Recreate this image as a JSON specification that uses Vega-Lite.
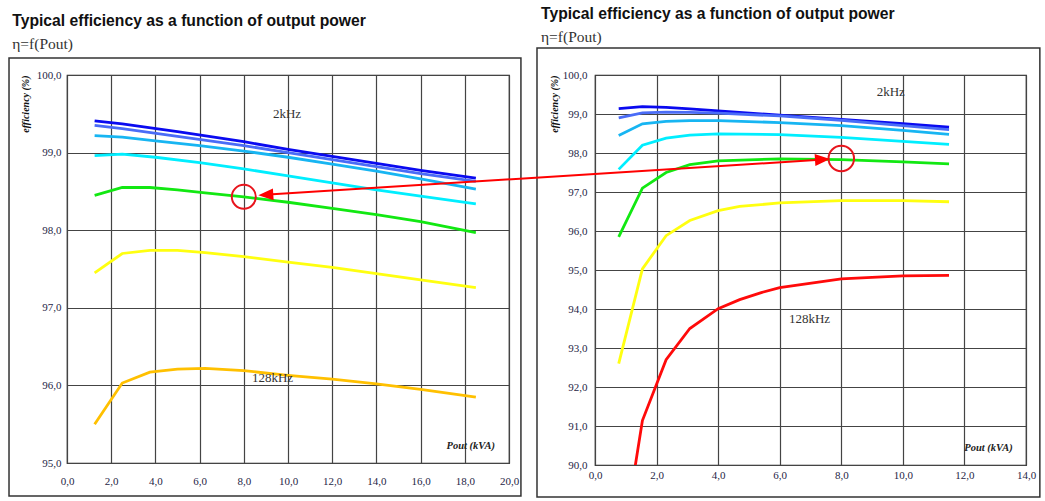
{
  "$schema": "https://vega.github.io/schema/vega-lite/v6.json",
  "autosize": {"type": "none"},
  "padding": {"left": 67, "top": 75, "right": 978, "bottom": 426},
  "background": "white",
  "bounds": "flush",
  "spacing": 86,
  "resolve": {"scale": {"color": "independent", "x": "independent", "y": "independent"}},
  "config": {
    "view": {"stroke": "#222", "strokeWidth": 1.2},
    "axis": {
      "labelFont": "Liberation Serif", "labelFontSize": 11, "labelColor": "#262646",
      "labelFlush": false, "labelOverlap": false, "tickCount": 30,
      "gridColor": "#444", "gridWidth": 1.2, "gridOpacity": 1,
      "domain": false, "ticks": false, "tickSize": 0,
      "titleFont": "Liberation Serif", "titleFontStyle": "italic", "titleFontWeight": "bold",
      "titleFontSize": 10, "titleColor": "#111"
    },
    "title": {
      "font": "Liberation Sans", "fontSize": 15.7, "fontWeight": "bold", "color": "#111",
      "subtitleFont": "Liberation Serif", "subtitleFontSize": 15.5, "subtitleColor": "#333",
      "subtitlePadding": 7
    }
  },
  "datasets": {
    "left": [
      {"f": "2kHz", "p": 1.25, "eff": 99.41}, {"f": "2kHz", "p": 2.5, "eff": 99.37}, {"f": "2kHz", "p": 5, "eff": 99.27}, {"f": "2kHz", "p": 8, "eff": 99.14}, {"f": "2kHz", "p": 10, "eff": 99.04}, {"f": "2kHz", "p": 12, "eff": 98.95}, {"f": "2kHz", "p": 14, "eff": 98.86}, {"f": "2kHz", "p": 16, "eff": 98.77}, {"f": "2kHz", "p": 18.5, "eff": 98.67},
      {"f": "4kHz", "p": 1.25, "eff": 99.35}, {"f": "4kHz", "p": 2.5, "eff": 99.31}, {"f": "4kHz", "p": 5, "eff": 99.21}, {"f": "4kHz", "p": 8, "eff": 99.09}, {"f": "4kHz", "p": 10, "eff": 99.0}, {"f": "4kHz", "p": 12, "eff": 98.91}, {"f": "4kHz", "p": 14, "eff": 98.82}, {"f": "4kHz", "p": 16, "eff": 98.73}, {"f": "4kHz", "p": 18.5, "eff": 98.63},
      {"f": "8kHz", "p": 1.25, "eff": 99.22}, {"f": "8kHz", "p": 2.5, "eff": 99.2}, {"f": "8kHz", "p": 4, "eff": 99.15}, {"f": "8kHz", "p": 6, "eff": 99.09}, {"f": "8kHz", "p": 8, "eff": 99.02}, {"f": "8kHz", "p": 10, "eff": 98.94}, {"f": "8kHz", "p": 12, "eff": 98.85}, {"f": "8kHz", "p": 14, "eff": 98.76}, {"f": "8kHz", "p": 16, "eff": 98.66}, {"f": "8kHz", "p": 18.5, "eff": 98.53},
      {"f": "16kHz", "p": 1.25, "eff": 98.96}, {"f": "16kHz", "p": 2.5, "eff": 98.98}, {"f": "16kHz", "p": 4, "eff": 98.94}, {"f": "16kHz", "p": 6, "eff": 98.87}, {"f": "16kHz", "p": 8, "eff": 98.79}, {"f": "16kHz", "p": 10, "eff": 98.7}, {"f": "16kHz", "p": 12, "eff": 98.61}, {"f": "16kHz", "p": 14, "eff": 98.52}, {"f": "16kHz", "p": 16, "eff": 98.44}, {"f": "16kHz", "p": 18.5, "eff": 98.34},
      {"f": "32kHz", "p": 1.25, "eff": 98.45}, {"f": "32kHz", "p": 2.5, "eff": 98.55}, {"f": "32kHz", "p": 3.75, "eff": 98.55}, {"f": "32kHz", "p": 5, "eff": 98.52}, {"f": "32kHz", "p": 6.25, "eff": 98.48}, {"f": "32kHz", "p": 8, "eff": 98.43}, {"f": "32kHz", "p": 10, "eff": 98.36}, {"f": "32kHz", "p": 12, "eff": 98.28}, {"f": "32kHz", "p": 14, "eff": 98.2}, {"f": "32kHz", "p": 16, "eff": 98.11}, {"f": "32kHz", "p": 18.5, "eff": 97.97},
      {"f": "64kHz", "p": 1.25, "eff": 97.45}, {"f": "64kHz", "p": 2.5, "eff": 97.7}, {"f": "64kHz", "p": 3.75, "eff": 97.74}, {"f": "64kHz", "p": 5, "eff": 97.74}, {"f": "64kHz", "p": 6.25, "eff": 97.71}, {"f": "64kHz", "p": 8, "eff": 97.66}, {"f": "64kHz", "p": 10, "eff": 97.59}, {"f": "64kHz", "p": 12, "eff": 97.52}, {"f": "64kHz", "p": 14, "eff": 97.44}, {"f": "64kHz", "p": 16, "eff": 97.36}, {"f": "64kHz", "p": 18.5, "eff": 97.26},
      {"f": "128kHz", "p": 1.25, "eff": 95.5}, {"f": "128kHz", "p": 2.5, "eff": 96.03}, {"f": "128kHz", "p": 3.75, "eff": 96.17}, {"f": "128kHz", "p": 5, "eff": 96.21}, {"f": "128kHz", "p": 6.25, "eff": 96.22}, {"f": "128kHz", "p": 8, "eff": 96.19}, {"f": "128kHz", "p": 10, "eff": 96.13}, {"f": "128kHz", "p": 12, "eff": 96.08}, {"f": "128kHz", "p": 14, "eff": 96.02}, {"f": "128kHz", "p": 16, "eff": 95.95}, {"f": "128kHz", "p": 18.5, "eff": 95.85}
    ],
    "right": [
      {"f": "2kHz", "p": 0.77, "eff": 99.14}, {"f": "2kHz", "p": 1.54, "eff": 99.19}, {"f": "2kHz", "p": 2.31, "eff": 99.17}, {"f": "2kHz", "p": 3.08, "eff": 99.13}, {"f": "2kHz", "p": 4, "eff": 99.08}, {"f": "2kHz", "p": 6, "eff": 98.97}, {"f": "2kHz", "p": 8, "eff": 98.86}, {"f": "2kHz", "p": 10, "eff": 98.75}, {"f": "2kHz", "p": 11.5, "eff": 98.66},
      {"f": "4kHz", "p": 0.77, "eff": 98.9}, {"f": "4kHz", "p": 1.54, "eff": 99.03}, {"f": "4kHz", "p": 2.31, "eff": 99.05}, {"f": "4kHz", "p": 3.08, "eff": 99.04}, {"f": "4kHz", "p": 4, "eff": 99.02}, {"f": "4kHz", "p": 6, "eff": 98.95}, {"f": "4kHz", "p": 8, "eff": 98.84}, {"f": "4kHz", "p": 10, "eff": 98.7}, {"f": "4kHz", "p": 11.5, "eff": 98.6},
      {"f": "8kHz", "p": 0.77, "eff": 98.45}, {"f": "8kHz", "p": 1.54, "eff": 98.75}, {"f": "8kHz", "p": 2.31, "eff": 98.81}, {"f": "8kHz", "p": 3.08, "eff": 98.83}, {"f": "8kHz", "p": 4, "eff": 98.83}, {"f": "8kHz", "p": 6, "eff": 98.78}, {"f": "8kHz", "p": 8, "eff": 98.7}, {"f": "8kHz", "p": 10, "eff": 98.58}, {"f": "8kHz", "p": 11.5, "eff": 98.48},
      {"f": "16kHz", "p": 0.77, "eff": 97.58}, {"f": "16kHz", "p": 1.54, "eff": 98.2}, {"f": "16kHz", "p": 2.31, "eff": 98.38}, {"f": "16kHz", "p": 3.08, "eff": 98.46}, {"f": "16kHz", "p": 4, "eff": 98.49}, {"f": "16kHz", "p": 6, "eff": 98.47}, {"f": "16kHz", "p": 8, "eff": 98.4}, {"f": "16kHz", "p": 10, "eff": 98.3}, {"f": "16kHz", "p": 11.5, "eff": 98.22},
      {"f": "32kHz", "p": 0.77, "eff": 95.85}, {"f": "32kHz", "p": 1.54, "eff": 97.1}, {"f": "32kHz", "p": 2.31, "eff": 97.5}, {"f": "32kHz", "p": 3.08, "eff": 97.7}, {"f": "32kHz", "p": 4, "eff": 97.8}, {"f": "32kHz", "p": 6, "eff": 97.85}, {"f": "32kHz", "p": 8, "eff": 97.83}, {"f": "32kHz", "p": 10, "eff": 97.77}, {"f": "32kHz", "p": 11.5, "eff": 97.72},
      {"f": "64kHz", "p": 0.77, "eff": 92.6}, {"f": "64kHz", "p": 1.54, "eff": 95.03}, {"f": "64kHz", "p": 2.31, "eff": 95.88}, {"f": "64kHz", "p": 3.08, "eff": 96.27}, {"f": "64kHz", "p": 4, "eff": 96.52}, {"f": "64kHz", "p": 4.7, "eff": 96.63}, {"f": "64kHz", "p": 6, "eff": 96.72}, {"f": "64kHz", "p": 8, "eff": 96.78}, {"f": "64kHz", "p": 10, "eff": 96.78}, {"f": "64kHz", "p": 11.5, "eff": 96.75},
      {"f": "128kHz", "p": 0.77, "eff": 87.3}, {"f": "128kHz", "p": 1.54, "eff": 91.14}, {"f": "128kHz", "p": 2.31, "eff": 92.7}, {"f": "128kHz", "p": 3.08, "eff": 93.5}, {"f": "128kHz", "p": 4, "eff": 94.01}, {"f": "128kHz", "p": 4.7, "eff": 94.24}, {"f": "128kHz", "p": 5.4, "eff": 94.42}, {"f": "128kHz", "p": 6, "eff": 94.55}, {"f": "128kHz", "p": 8, "eff": 94.77}, {"f": "128kHz", "p": 10, "eff": 94.85}, {"f": "128kHz", "p": 11.5, "eff": 94.86}
    ]
  },
  "hconcat": [
    {
      "width": 442,
      "height": 388,
      "title": {"text": "Typical efficiency as a function of output power", "subtitle": "η=f(Pout)", "anchor": "start", "frame": "bounds", "dx": 4, "offset": 4},
      "layer": [
        {
          "data": {"values": [{}]},
          "mark": {"type": "rect", "fill": "transparent", "stroke": "#333", "strokeWidth": 1.5},
          "encoding": {
            "x": {"datum": -2.624, "type": "quantitative", "scale": {"domain": [0, 20], "nice": false, "zero": false}},
            "x2": {"datum": 20.54},
            "y": {"datum": 100.219, "type": "quantitative", "scale": {"domain": [95, 100], "nice": false, "zero": false}},
            "y2": {"datum": 94.575}
          }
        },
        {
          "data": {"name": "left"},
          "mark": {"type": "line", "strokeWidth": 2.8, "clip": true},
          "encoding": {
            "x": {"field": "p", "type": "quantitative", "scale": {"domain": [0, 20], "nice": false, "zero": false},
              "axis": {"values": [0, 2, 4, 6, 8, 10, 12, 14, 16, 18, 20], "tickCount": 30, "title": null, "grid": true, "labelPadding": 12, "labelExpr": "replace(format(datum.value, '.1f'), '.', ',')"}},
            "y": {"field": "eff", "type": "quantitative", "scale": {"domain": [95, 100], "nice": false, "zero": false},
              "axis": {"values": [95, 96, 97, 98, 99, 100], "tickCount": 30, "title": "efficiency (%)", "titleAnchor": "end", "titlePadding": 6, "grid": true, "labelPadding": 6, "labelExpr": "replace(format(datum.value, '.1f'), '.', ',')"}},
            "color": {"field": "f", "type": "nominal", "legend": null,
              "scale": {"domain": ["2kHz", "4kHz", "8kHz", "16kHz", "32kHz", "64kHz", "128kHz"], "range": ["#0a0af0", "#4a6cf7", "#17b5f2", "#00eeff", "#12e812", "#ffff10", "#ffc000"]}}
          }
        },
        {
          "data": {"values": [{}]},
          "mark": {"type": "text", "text": "2kHz", "align": "left", "baseline": "middle", "font": "Liberation Serif", "fontSize": 13, "color": "#333"},
          "encoding": {
            "x": {"datum": 9.32, "type": "quantitative", "scale": {"domain": [0, 20], "nice": false, "zero": false}},
            "y": {"datum": 99.5, "type": "quantitative", "scale": {"domain": [95, 100], "nice": false, "zero": false}}
          }
        },
        {
          "data": {"values": [{}]},
          "mark": {"type": "text", "text": "128kHz", "align": "left", "baseline": "middle", "font": "Liberation Serif", "fontSize": 13, "color": "#333"},
          "encoding": {
            "x": {"datum": 8.37, "type": "quantitative", "scale": {"domain": [0, 20], "nice": false, "zero": false}},
            "y": {"datum": 96.1, "type": "quantitative", "scale": {"domain": [95, 100], "nice": false, "zero": false}}
          }
        },
        {
          "data": {"values": [{}]},
          "mark": {"type": "text", "text": "Pout (kVA)", "align": "right", "baseline": "middle", "font": "Liberation Serif", "fontStyle": "italic", "fontWeight": "bold", "fontSize": 10.5, "color": "#222"},
          "encoding": {
            "x": {"datum": 19.37, "type": "quantitative", "scale": {"domain": [0, 20], "nice": false, "zero": false}},
            "y": {"datum": 95.22, "type": "quantitative", "scale": {"domain": [95, 100], "nice": false, "zero": false}}
          }
        },
        {
          "data": {"values": [{}]},
          "mark": {"type": "point", "shape": "circle", "filled": false, "size": 576, "stroke": "#e8141c", "strokeWidth": 2, "opacity": 1},
          "encoding": {
            "x": {"datum": 8, "type": "quantitative", "scale": {"domain": [0, 20], "nice": false, "zero": false}},
            "y": {"datum": 98.43, "type": "quantitative", "scale": {"domain": [95, 100], "nice": false, "zero": false}}
          }
        }
      ]
    },
    {
      "width": 431,
      "height": 390,
      "title": {"text": "Typical efficiency as a function of output power", "subtitle": "η=f(Pout)", "anchor": "start", "frame": "group", "dx": -54, "offset": 1},
      "layer": [
        {
          "data": {"values": [{}]},
          "mark": {"type": "rect", "fill": "transparent", "stroke": "#333", "strokeWidth": 1.5},
          "encoding": {
            "x": {"datum": -1.884, "type": "quantitative", "scale": {"domain": [0, 14], "nice": false, "zero": false}},
            "x2": {"datum": 14.45},
            "y": {"datum": 100.69, "type": "quantitative", "scale": {"domain": [90, 100], "nice": false, "zero": false}},
            "y2": {"datum": 89.18}
          }
        },
        {
          "data": {"name": "right"},
          "mark": {"type": "line", "strokeWidth": 2.8, "clip": true},
          "encoding": {
            "x": {"field": "p", "type": "quantitative", "scale": {"domain": [0, 14], "nice": false, "zero": false},
              "axis": {"values": [0, 2, 4, 6, 8, 10, 12, 14], "tickCount": 30, "title": null, "grid": true, "labelPadding": 4, "labelExpr": "replace(format(datum.value, '.1f'), '.', ',')"}},
            "y": {"field": "eff", "type": "quantitative", "scale": {"domain": [90, 100], "nice": false, "zero": false},
              "axis": {"values": [90, 91, 92, 93, 94, 95, 96, 97, 98, 99, 100], "tickCount": 30, "title": "efficiency (%)", "titleAnchor": "end", "titlePadding": 3, "grid": true, "labelPadding": 8, "labelExpr": "replace(format(datum.value, '.1f'), '.', ',')"}},
            "color": {"field": "f", "type": "nominal", "legend": null,
              "scale": {"domain": ["2kHz", "4kHz", "8kHz", "16kHz", "32kHz", "64kHz", "128kHz"], "range": ["#0a0af0", "#4a6cf7", "#17b5f2", "#00eeff", "#12e812", "#ffff10", "#ff0a0a"]}}
          }
        },
        {
          "data": {"values": [{}]},
          "mark": {"type": "text", "text": "2kHz", "align": "left", "baseline": "middle", "font": "Liberation Serif", "fontSize": 13, "color": "#333"},
          "encoding": {
            "x": {"datum": 9.15, "type": "quantitative", "scale": {"domain": [0, 14], "nice": false, "zero": false}},
            "y": {"datum": 99.56, "type": "quantitative", "scale": {"domain": [90, 100], "nice": false, "zero": false}}
          }
        },
        {
          "data": {"values": [{}]},
          "mark": {"type": "text", "text": "128kHz", "align": "left", "baseline": "middle", "font": "Liberation Serif", "fontSize": 13, "color": "#333"},
          "encoding": {
            "x": {"datum": 6.3, "type": "quantitative", "scale": {"domain": [0, 14], "nice": false, "zero": false}},
            "y": {"datum": 93.74, "type": "quantitative", "scale": {"domain": [90, 100], "nice": false, "zero": false}}
          }
        },
        {
          "data": {"values": [{}]},
          "mark": {"type": "text", "text": "Pout (kVA)", "align": "right", "baseline": "middle", "font": "Liberation Serif", "fontStyle": "italic", "fontWeight": "bold", "fontSize": 10.5, "color": "#222"},
          "encoding": {
            "x": {"datum": 13.57, "type": "quantitative", "scale": {"domain": [0, 14], "nice": false, "zero": false}},
            "y": {"datum": 90.44, "type": "quantitative", "scale": {"domain": [90, 100], "nice": false, "zero": false}}
          }
        },
        {
          "data": {"values": [{}]},
          "mark": {"type": "point", "shape": "circle", "filled": false, "size": 650, "stroke": "#e8141c", "strokeWidth": 2, "opacity": 1},
          "encoding": {
            "x": {"datum": 8, "type": "quantitative", "scale": {"domain": [0, 14], "nice": false, "zero": false}},
            "y": {"datum": 97.86, "type": "quantitative", "scale": {"domain": [90, 100], "nice": false, "zero": false}}
          }
        },
        {
          "data": {"values": [{}]},
          "mark": {"type": "rule", "color": "#ff0000", "strokeWidth": 2},
          "encoding": {
            "x": {"datum": -10.6, "type": "quantitative", "scale": {"domain": [0, 14], "nice": false, "zero": false}},
            "x2": {"datum": 7.3},
            "y": {"datum": 96.936, "type": "quantitative", "scale": {"domain": [90, 100], "nice": false, "zero": false}},
            "y2": {"datum": 97.825}
          }
        },
        {
          "data": {"values": [{}]},
          "mark": {"type": "point", "shape": "M0,0L2,-0.8L2,0.8Z", "filled": true, "size": 225, "color": "#ff0000", "opacity": 1, "angle": -3.6},
          "encoding": {
            "x": {"datum": -10.937, "type": "quantitative", "scale": {"domain": [0, 14], "nice": false, "zero": false}},
            "y": {"datum": 96.915, "type": "quantitative", "scale": {"domain": [90, 100], "nice": false, "zero": false}}
          }
        },
        {
          "data": {"values": [{}]},
          "mark": {"type": "point", "shape": "M0,0L-2,-0.8L-2,0.8Z", "filled": true, "size": 225, "color": "#ff0000", "opacity": 1, "angle": -3.6},
          "encoding": {
            "x": {"datum": 7.633, "type": "quantitative", "scale": {"domain": [0, 14], "nice": false, "zero": false}},
            "y": {"datum": 97.844, "type": "quantitative", "scale": {"domain": [90, 100], "nice": false, "zero": false}}
          }
        }
      ]
    }
  ]
}
